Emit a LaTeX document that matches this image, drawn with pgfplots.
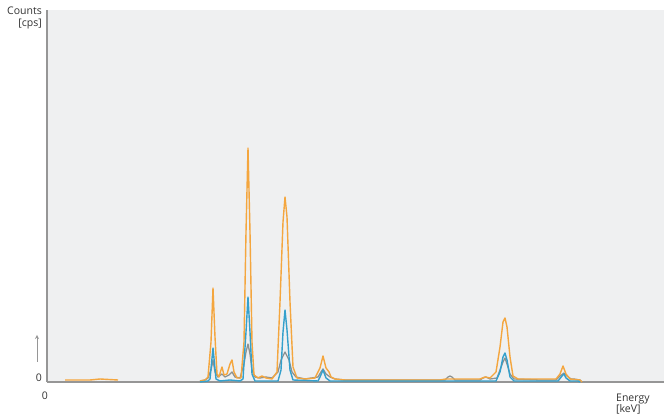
\documentclass[border=0pt]{standalone}
\usepackage{pgfplots}
\pgfplotsset{compat=1.18}
\usepackage{fontspec}
\setmainfont{Open Sans}
\definecolor{bgc}{RGB}{239,240,241}
\definecolor{orangec}{RGB}{244,166,62}
\definecolor{bluec}{RGB}{52,160,204}
\definecolor{grayc}{RGB}{140,146,146}
\definecolor{axc}{RGB}{150,150,150}
\definecolor{txt}{RGB}{50,50,50}
\begin{document}
\begin{tikzpicture}[x=1pt,y=1pt]
\path[use as bounding box] (0,0) rectangle (664,417);
\begin{axis}[
  at={(47pt,35pt)}, anchor=south west,
  scale only axis,
  width=617pt, height=372pt,
  xmin=47, xmax=664, ymin=0, ymax=372,
  axis x line=bottom, axis y line=left,
  axis line style={-, draw=axc, line width=1.2pt},
  axis background/.style={fill=bgc},
  xtick=\empty, ytick=\empty,
  clip=false,
]
% gray trace
\addplot[grayc, line width=1.3pt, line join=round] coordinates {
(200,1) (205,2) (208,4) (211,12) (213,22) (215,10) (218,5) (222,8) (225,5) (229,7) (232,10) (235,5) (240,4)
(244,18) (246,30) (248,38) (250,28) (252,12) (255,5) (260,4) (266,5) (272,4) (278,10) (281,22) (285,30) (289,22) (292,10) (296,5)
(305,3) (318,5) (321,10) (323,13) (326,8) (330,5) (335,3) (345,2) (400,2) (445,2) (448,5) (450,6) (452,5) (455,2)
(480,2) (483,4) (486,5) (490,3) (497,4) (500,12) (503,20) (505,24) (507,18) (510,8) (514,3) (540,2) (556,2) (560,6) (564,9) (567,6) (571,3) (574,3) (580,2) (582,0)
};
% orange trace
\addplot[orangec, line width=1.4pt, line join=round] coordinates {
(200,1) (205,2) (208,5) (211,40) (213,94) (215,45) (217,8) (219,5) (221,12) (222,15) (224,7) (227,8) (230,18) (232,22) (234,10) (237,4) (241,4)
(244,40) (246,150) (248,234) (250,150) (252,40) (254,7) (258,4) (262,6) (266,4) (272,3) (277,10) (280,80) (283,160) (285,185) (287,165) (290,80) (293,15) (297,4)
(305,3) (315,4) (320,14) (323,26) (326,14) (329,10) (331,5) (335,3) (345,2) (440,2) (446,3) (450,3) (455,3) (480,3) (485,5) (490,4)
(496,10) (500,35) (503,60) (505,64) (507,55) (510,25) (513,6) (518,3) (540,3) (556,3) (560,8) (563,16) (566,8) (570,3) (580,2) (582,0)
};
\addplot[orangec, line width=1.4pt] coordinates {(65,2) (90,2) (100,3) (118,2)};
% blue trace
\addplot[bluec, line width=1.4pt, line join=round] coordinates {
(200,0) (208,1) (210,3) (213,34) (216,3) (220,1) (230,2) (240,1) (243,3)
(246,50) (248,85) (250,50) (252,8) (255,1) (278,1) (281,12) (283,50) (285,72) (287,52) (290,12) (293,2)
(318,1) (320,5) (323,12) (326,4) (330,1) (340,1) (440,1) (496,1) (500,10) (503,25) (505,29) (507,22) (510,5) (514,1)
(558,1) (562,6) (564,8) (566,4) (570,1) (578,1) (580,0)
};
\end{axis}
\draw[axc, line width=0.8pt, ->, >=stealth] (37,55) -- (37,82);
\begin{scope}[font=\fontsize{10.5}{11.5}\selectfont, text=txt]
\node[anchor=east, align=right, inner sep=0pt] at (42,399) {Counts\\{[cps]}};
\node[anchor=center, inner sep=0pt] at (39,39) {0};
\node[anchor=center, inner sep=0pt] at (45,21) {0};
\node[anchor=west, align=left, inner sep=0pt] at (616,13) {Energy\\{[keV]}};
\end{scope}
\end{tikzpicture}
\end{document}
